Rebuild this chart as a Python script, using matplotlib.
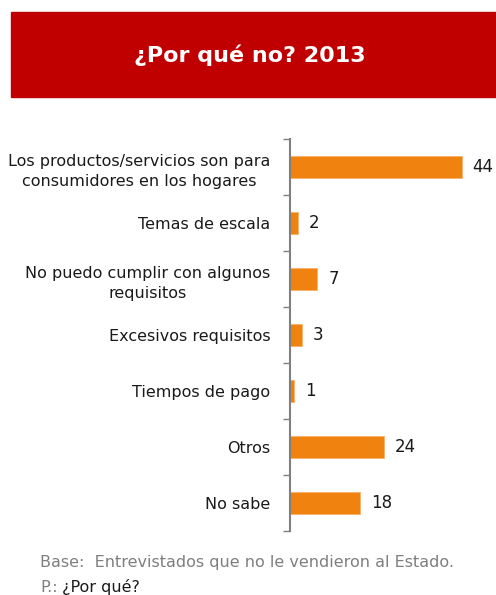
import matplotlib.pyplot as plt
from matplotlib.patches import Rectangle

# datos
categorias = ["Los productos/servicios son para\nconsumidores en los hogares",
              "Temas de escala",
              "No puedo cumplir con algunos\nrequisitos",
              "Excesivos requisitos",
              "Tiempos de pago",
              "Otros",
              "No sabe"]
valores = [44, 2, 7, 3, 1, 24, 18]

titulo = "¿Por qué no? 2013"
nota_base = "Base:  Entrevistados que no le vendieron al Estado."

naranja = "#F0820F"
rojo = "#C00000"
gris = "#7F7F7F"

plt.rcParams['font.family'] = ['DejaVu Sans']

W, H = 496, 595
fig = plt.figure(figsize=(W / 100, H / 100), dpi=100)

# banner rojo del titulo
fig.patches.append(Rectangle((11 / W, 1 - 97 / H), 1 - 11 / W, 85 / H,
                             transform=fig.transFigure, color=rojo, zorder=0))
fig.text(250 / W, 1 - 55 / H, titulo, color="white", fontsize=16,
         fontweight="bold", ha="center", va="center")

ax = fig.add_axes([290 / W, 1 - 531 / H, 195 / W, 392 / H])
y = list(range(len(valores)))
ax.barh(y, valores, height=0.4, color=naranja, edgecolor="#F6B26B", linewidth=0.6)
ax.set_xlim(0, 50)
ax.set_ylim(len(valores) - 0.5, -0.5)

for yi, v in zip(y, valores):
    ax.text(v + 2.8, yi, str(v), va="center", ha="left", fontsize=12, color="#1a1a1a")

# etiquetas de categoria en los ticks mayores, separadores en los menores
ax.set_yticks(y)
ax.set_yticklabels(categorias, fontsize=11.5, color="#1a1a1a", linespacing=1.45)
for lbl in ax.get_yticklabels():
    lbl.set_multialignment("center")
ax.tick_params(axis="y", which="major", length=0, pad=14)
ax.set_yticks([i - 0.5 for i in range(len(valores) + 1)], minor=True)
ax.tick_params(axis="y", which="minor", length=5, color=gris, width=1)

ax.set_xticks([])
for s in ["top", "right", "bottom"]:
    ax.spines[s].set_visible(False)
ax.spines["left"].set_color(gris)
ax.spines["left"].set_linewidth(1.5)

fig.text(40 / W, 1 - 563 / H, nota_base, color=gris, fontsize=11.5, va="center")
fig.text(40 / W, 1 - 587 / H, "P.:", color=gris, fontsize=11.5, va="center")
fig.text(62 / W, 1 - 587 / H, "¿Por qué?", color="#1a1a1a", fontsize=11.5, va="center")

fig.savefig("out.png", dpi=100)
